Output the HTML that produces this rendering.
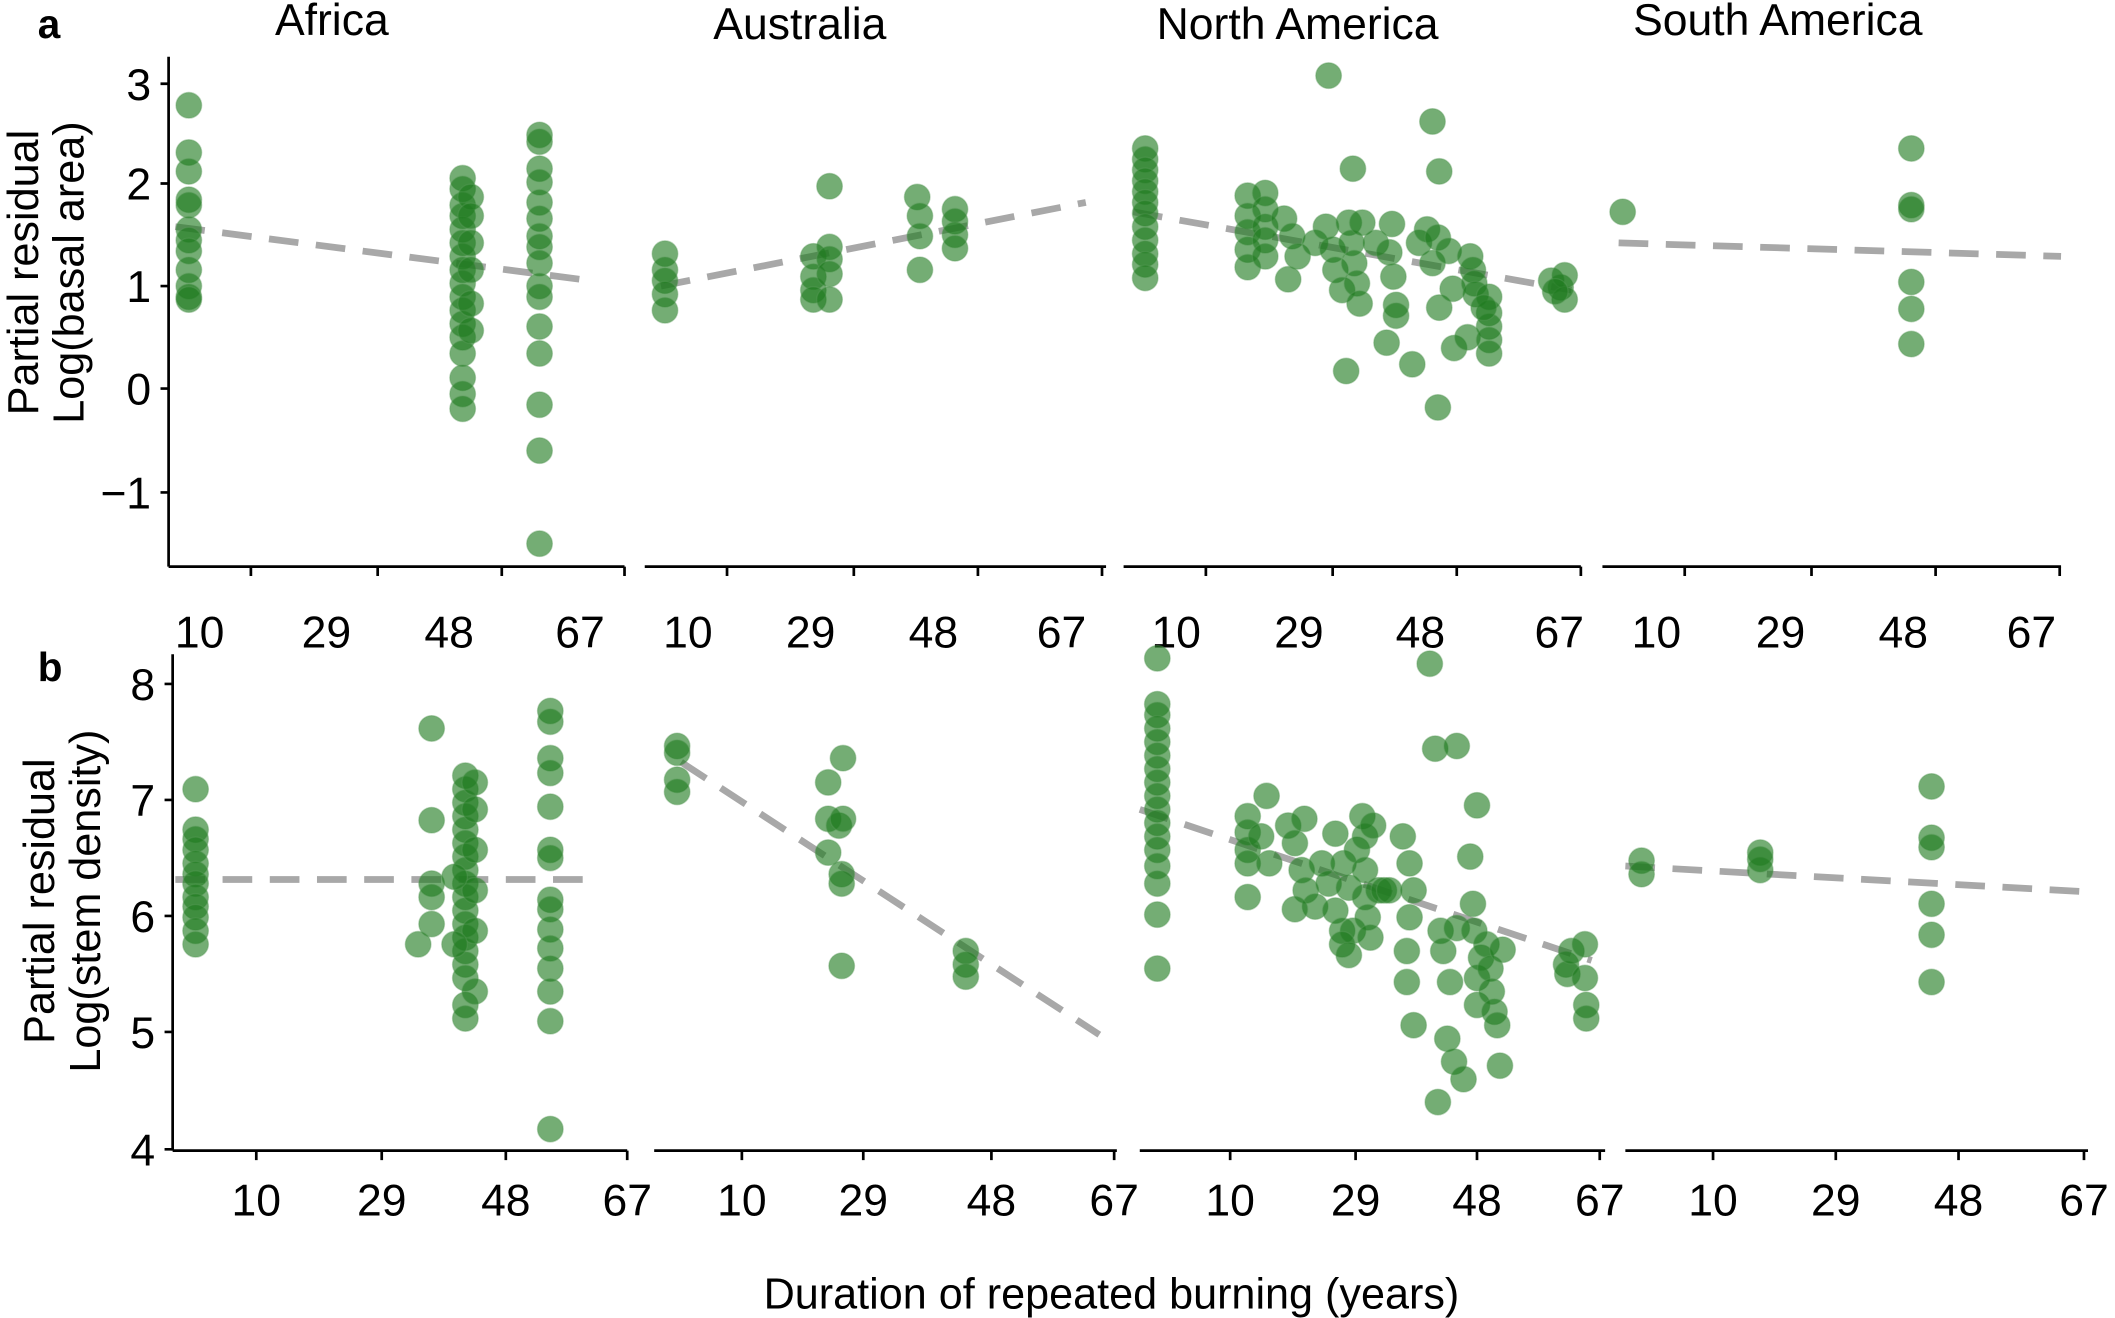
<!DOCTYPE html>
<html><head><meta charset="utf-8"><style>
html,body{margin:0;padding:0;background:#fff}
svg{display:block}
text{font-family:"Liberation Sans",sans-serif;fill:#000}
.p{fill:#1f7a1f;fill-opacity:.62;stroke:#5a9a5a;stroke-opacity:.4;stroke-width:1}
.ax{stroke:#000;stroke-width:2;fill:none}
.rl{stroke:#a8a8a8;stroke-width:5;stroke-dasharray:22,13;fill:none}
.t{font-size:33px}
.yl{font-size:32px}
</style></head><body>
<svg width="2115" height="1318" viewBox="0 0 1568 977" xmlns="http://www.w3.org/2000/svg">
<text x="28" y="28" font-size="30" font-weight="bold">a</text>
<text x="28" y="505" font-size="30" font-weight="bold">b</text>
<text class="t" x="246" y="26" text-anchor="middle">Africa</text>
<text class="t" x="593" y="29" text-anchor="middle">Australia</text>
<text class="t" x="962" y="29" text-anchor="middle">North America</text>
<text class="t" x="1318" y="26" text-anchor="middle">South America</text>
<text class="yl" transform="translate(28,202) rotate(-90)" text-anchor="middle">Partial residual</text>
<text class="yl" transform="translate(62,202) rotate(-90)" text-anchor="middle">Log(basal area)</text>
<text class="yl" transform="translate(40,668) rotate(-90)" text-anchor="middle">Partial residual</text>
<text class="yl" transform="translate(74,668) rotate(-90)" text-anchor="middle">Log(stem density)</text>
<text class="yl" x="824" y="970" text-anchor="middle">Duration of repeated burning (years)</text>

<path class="ax" d="M125 42V420M125 420H463M478 420H820M833 420H1172M1188 420H1528"/>
<path class="ax" d="M119 62H125M119 136H125M119 212H125M119 288H125M119 365H125
M186 420v7M280 420v7M372 420v7M463 420v7M539 420v7M633 420v7M725 420v7M817 420v7
M894 420v7M988 420v7M1080 420v7M1172 420v7M1249 420v7M1343 420v7M1435 420v7M1527 420v7"/>
<g class="t" text-anchor="end">
<text x="112" y="74">3</text><text x="112" y="148">2</text><text x="112" y="224">1</text><text x="112" y="300">0</text><text x="112" y="377">−1</text>
</g>
<g class="t" text-anchor="middle">
<text x="148" y="480">10</text><text x="242" y="480">29</text><text x="333" y="480">48</text><text x="430" y="480">67</text>
<text x="510" y="480">10</text><text x="601" y="480">29</text><text x="692" y="480">48</text><text x="787" y="480">67</text>
<text x="872" y="480">10</text><text x="963" y="480">29</text><text x="1053" y="480">48</text><text x="1156" y="480">67</text>
<text x="1228" y="480">10</text><text x="1320" y="480">29</text><text x="1411" y="480">48</text><text x="1506" y="480">67</text>
</g>

<path class="ax" d="M128 485V853M128 853H465M485 853H828M845 853H1190M1205 853H1548"/>
<path class="ax" d="M122 507H128M122 593H128M122 679H128M122 765H128M122 852H128
M190 853v7M283 853v7M375 853v7M465 853v7M550 853v7M640 853v7M735 853v7M826 853v7
M912 853v7M1005 853v7M1095 853v7M1186 853v7M1270 853v7M1361 853v7M1452 853v7M1545 853v7"/>
<g class="t" text-anchor="end">
<text x="115" y="519">8</text><text x="115" y="605">7</text><text x="115" y="691">6</text><text x="115" y="777">5</text><text x="115" y="864">4</text>
</g>
<g class="t" text-anchor="middle">
<text x="190" y="901">10</text><text x="283" y="901">29</text><text x="375" y="901">48</text><text x="465" y="901">67</text>
<text x="550" y="901">10</text><text x="640" y="901">29</text><text x="735" y="901">48</text><text x="826" y="901">67</text>
<text x="912" y="901">10</text><text x="1005" y="901">29</text><text x="1095" y="901">48</text><text x="1186" y="901">67</text>
<text x="1270" y="901">10</text><text x="1361" y="901">29</text><text x="1452" y="901">48</text><text x="1545" y="901">67</text>
</g>

<path class="rl" d="M130 168L430 207M490 212L805 150M840 157L1165 215M1200 180L1528 190
M130 652L440 652M505 565L815 767M845 600L1180 712M1205 642L1545 661"/>

<g class="p">
<circle cx="140" cy="78" r="9.5"/><circle cx="140" cy="113" r="9.5"/><circle cx="140" cy="127" r="9.5"/><circle cx="140" cy="148" r="9.5"/><circle cx="140" cy="152" r="9.5"/><circle cx="140" cy="170" r="9.5"/><circle cx="140" cy="178" r="9.5"/><circle cx="140" cy="186" r="9.5"/><circle cx="140" cy="200" r="9.5"/><circle cx="140" cy="212" r="9.5"/><circle cx="140" cy="220" r="9.5"/><circle cx="140" cy="222" r="9.5"/>
<circle cx="343" cy="132" r="9.5"/><circle cx="343" cy="140" r="9.5"/><circle cx="343" cy="152" r="9.5"/><circle cx="343" cy="160" r="9.5"/><circle cx="343" cy="170" r="9.5"/><circle cx="343" cy="180" r="9.5"/><circle cx="343" cy="190" r="9.5"/><circle cx="343" cy="200" r="9.5"/><circle cx="343" cy="210" r="9.5"/><circle cx="343" cy="220" r="9.5"/><circle cx="343" cy="230" r="9.5"/><circle cx="343" cy="240" r="9.5"/><circle cx="343" cy="250" r="9.5"/><circle cx="343" cy="262" r="9.5"/><circle cx="343" cy="280" r="9.5"/><circle cx="343" cy="292" r="9.5"/><circle cx="343" cy="303" r="9.5"/>
<circle cx="349" cy="146" r="9.5"/><circle cx="349" cy="160" r="9.5"/><circle cx="349" cy="180" r="9.5"/><circle cx="349" cy="200" r="9.5"/><circle cx="349" cy="225" r="9.5"/><circle cx="349" cy="245" r="9.5"/>
<circle cx="400" cy="100" r="9.5"/><circle cx="400" cy="105" r="9.5"/><circle cx="400" cy="125" r="9.5"/><circle cx="400" cy="135" r="9.5"/><circle cx="400" cy="150" r="9.5"/><circle cx="400" cy="162" r="9.5"/><circle cx="400" cy="175" r="9.5"/><circle cx="400" cy="183" r="9.5"/><circle cx="400" cy="195" r="9.5"/><circle cx="400" cy="212" r="9.5"/><circle cx="400" cy="220" r="9.5"/><circle cx="400" cy="242" r="9.5"/><circle cx="400" cy="262" r="9.5"/><circle cx="400" cy="300" r="9.5"/><circle cx="400" cy="334" r="9.5"/><circle cx="400" cy="403" r="9.5"/>
<circle cx="493" cy="188" r="9.5"/><circle cx="493" cy="200" r="9.5"/><circle cx="493" cy="208" r="9.5"/><circle cx="493" cy="218" r="9.5"/><circle cx="493" cy="230" r="9.5"/>
<circle cx="603" cy="190" r="9.5"/><circle cx="603" cy="205" r="9.5"/><circle cx="603" cy="215" r="9.5"/><circle cx="603" cy="222" r="9.5"/>
<circle cx="615" cy="138" r="9.5"/><circle cx="615" cy="183" r="9.5"/><circle cx="615" cy="192" r="9.5"/><circle cx="615" cy="203" r="9.5"/><circle cx="615" cy="222" r="9.5"/>
<circle cx="680" cy="146" r="9.5"/><circle cx="682" cy="160" r="9.5"/><circle cx="682" cy="175" r="9.5"/><circle cx="682" cy="200" r="9.5"/>
<circle cx="708" cy="155" r="9.5"/><circle cx="708" cy="164" r="9.5"/><circle cx="708" cy="174" r="9.5"/><circle cx="708" cy="184" r="9.5"/>
<circle cx="849" cy="110" r="9.5"/><circle cx="849" cy="118" r="9.5"/><circle cx="849" cy="126" r="9.5"/><circle cx="849" cy="134" r="9.5"/><circle cx="849" cy="142" r="9.5"/><circle cx="849" cy="150" r="9.5"/><circle cx="849" cy="158" r="9.5"/><circle cx="849" cy="168" r="9.5"/><circle cx="849" cy="178" r="9.5"/><circle cx="849" cy="188" r="9.5"/><circle cx="849" cy="196" r="9.5"/><circle cx="849" cy="206" r="9.5"/>
<circle cx="985" cy="56" r="9.5"/><circle cx="1062" cy="90" r="9.5"/><circle cx="1003" cy="125" r="9.5"/><circle cx="1067" cy="127" r="9.5"/>
<circle cx="925" cy="145" r="9.5"/><circle cx="925" cy="160" r="9.5"/><circle cx="925" cy="172" r="9.5"/><circle cx="925" cy="185" r="9.5"/><circle cx="925" cy="198" r="9.5"/>
<circle cx="938" cy="143" r="9.5"/><circle cx="938" cy="155" r="9.5"/><circle cx="938" cy="168" r="9.5"/><circle cx="938" cy="178" r="9.5"/><circle cx="938" cy="190" r="9.5"/>
<circle cx="952" cy="162" r="9.5"/><circle cx="958" cy="175" r="9.5"/><circle cx="962" cy="190" r="9.5"/><circle cx="955" cy="207" r="9.5"/>
<circle cx="975" cy="180" r="9.5"/><circle cx="983" cy="168" r="9.5"/><circle cx="988" cy="185" r="9.5"/><circle cx="990" cy="200" r="9.5"/><circle cx="995" cy="215" r="9.5"/>
<circle cx="1000" cy="165" r="9.5"/><circle cx="1002" cy="180" r="9.5"/><circle cx="1004" cy="195" r="9.5"/><circle cx="1006" cy="210" r="9.5"/><circle cx="1008" cy="225" r="9.5"/><circle cx="1010" cy="165" r="9.5"/>
<circle cx="1020" cy="180" r="9.5"/><circle cx="1030" cy="187" r="9.5"/><circle cx="1032" cy="166" r="9.5"/><circle cx="1033" cy="205" r="9.5"/><circle cx="1035" cy="226" r="9.5"/><circle cx="1035" cy="234" r="9.5"/><circle cx="1028" cy="254" r="9.5"/>
<circle cx="998" cy="275" r="9.5"/><circle cx="1047" cy="270" r="9.5"/><circle cx="1066" cy="302" r="9.5"/>
<circle cx="1052" cy="180" r="9.5"/><circle cx="1058" cy="170" r="9.5"/><circle cx="1066" cy="176" r="9.5"/><circle cx="1062" cy="195" r="9.5"/><circle cx="1067" cy="228" r="9.5"/><circle cx="1074" cy="186" r="9.5"/><circle cx="1077" cy="214" r="9.5"/>
<circle cx="1078" cy="258" r="9.5"/><circle cx="1088" cy="250" r="9.5"/>
<circle cx="1090" cy="190" r="9.5"/><circle cx="1092" cy="200" r="9.5"/><circle cx="1093" cy="210" r="9.5"/><circle cx="1094" cy="218" r="9.5"/>
<circle cx="1104" cy="220" r="9.5"/><circle cx="1104" cy="232" r="9.5"/><circle cx="1104" cy="242" r="9.5"/><circle cx="1104" cy="252" r="9.5"/><circle cx="1104" cy="262" r="9.5"/><circle cx="1100" cy="228" r="9.5"/>
<circle cx="1150" cy="208" r="9.5"/><circle cx="1157" cy="213" r="9.5"/><circle cx="1160" cy="204" r="9.5"/><circle cx="1160" cy="222" r="9.5"/><circle cx="1153" cy="216" r="9.5"/>
<circle cx="1203" cy="157" r="9.5"/><circle cx="1417" cy="110" r="9.5"/><circle cx="1417" cy="152" r="9.5"/><circle cx="1417" cy="155" r="9.5"/><circle cx="1417" cy="209" r="9.5"/><circle cx="1417" cy="229" r="9.5"/><circle cx="1417" cy="255" r="9.5"/>
</g>

<g class="p">
<circle cx="145" cy="585" r="9.5"/><circle cx="145" cy="615" r="9.5"/><circle cx="145" cy="622" r="9.5"/><circle cx="145" cy="630" r="9.5"/><circle cx="145" cy="640" r="9.5"/><circle cx="145" cy="648" r="9.5"/><circle cx="145" cy="655" r="9.5"/><circle cx="145" cy="665" r="9.5"/><circle cx="145" cy="672" r="9.5"/><circle cx="145" cy="680" r="9.5"/><circle cx="145" cy="690" r="9.5"/><circle cx="145" cy="700" r="9.5"/>
<circle cx="320" cy="540" r="9.5"/><circle cx="320" cy="608" r="9.5"/><circle cx="320" cy="655" r="9.5"/><circle cx="320" cy="665" r="9.5"/><circle cx="320" cy="685" r="9.5"/><circle cx="310" cy="700" r="9.5"/>
<circle cx="345" cy="575" r="9.5"/><circle cx="345" cy="585" r="9.5"/><circle cx="345" cy="595" r="9.5"/><circle cx="345" cy="605" r="9.5"/><circle cx="345" cy="615" r="9.5"/><circle cx="345" cy="625" r="9.5"/><circle cx="345" cy="635" r="9.5"/><circle cx="345" cy="645" r="9.5"/><circle cx="345" cy="655" r="9.5"/><circle cx="345" cy="665" r="9.5"/><circle cx="345" cy="675" r="9.5"/><circle cx="345" cy="685" r="9.5"/><circle cx="345" cy="695" r="9.5"/><circle cx="345" cy="705" r="9.5"/><circle cx="345" cy="715" r="9.5"/><circle cx="345" cy="725" r="9.5"/><circle cx="345" cy="745" r="9.5"/><circle cx="345" cy="755" r="9.5"/>
<circle cx="352" cy="580" r="9.5"/><circle cx="352" cy="600" r="9.5"/><circle cx="352" cy="630" r="9.5"/><circle cx="352" cy="660" r="9.5"/><circle cx="352" cy="690" r="9.5"/><circle cx="352" cy="735" r="9.5"/><circle cx="337" cy="650" r="9.5"/><circle cx="337" cy="700" r="9.5"/>
<circle cx="408" cy="527" r="9.5"/><circle cx="408" cy="535" r="9.5"/><circle cx="408" cy="562" r="9.5"/><circle cx="408" cy="573" r="9.5"/><circle cx="408" cy="598" r="9.5"/><circle cx="408" cy="630" r="9.5"/><circle cx="408" cy="636" r="9.5"/><circle cx="408" cy="667" r="9.5"/><circle cx="408" cy="674" r="9.5"/><circle cx="408" cy="689" r="9.5"/><circle cx="408" cy="703" r="9.5"/><circle cx="408" cy="718" r="9.5"/><circle cx="408" cy="735" r="9.5"/><circle cx="408" cy="757" r="9.5"/><circle cx="408" cy="837" r="9.5"/>
<circle cx="502" cy="553" r="9.5"/><circle cx="502" cy="558" r="9.5"/><circle cx="502" cy="578" r="9.5"/><circle cx="502" cy="587" r="9.5"/>
<circle cx="614" cy="580" r="9.5"/><circle cx="614" cy="607" r="9.5"/><circle cx="614" cy="632" r="9.5"/><circle cx="622" cy="612" r="9.5"/><circle cx="624" cy="648" r="9.5"/><circle cx="624" cy="655" r="9.5"/><circle cx="625" cy="562" r="9.5"/><circle cx="625" cy="607" r="9.5"/><circle cx="624" cy="716" r="9.5"/>
<circle cx="716" cy="705" r="9.5"/><circle cx="716" cy="715" r="9.5"/><circle cx="716" cy="724" r="9.5"/>
<circle cx="858" cy="488" r="9.5"/><circle cx="858" cy="522" r="9.5"/><circle cx="858" cy="530" r="9.5"/><circle cx="858" cy="540" r="9.5"/><circle cx="858" cy="550" r="9.5"/><circle cx="858" cy="560" r="9.5"/><circle cx="858" cy="570" r="9.5"/><circle cx="858" cy="580" r="9.5"/><circle cx="858" cy="590" r="9.5"/><circle cx="858" cy="600" r="9.5"/><circle cx="858" cy="610" r="9.5"/><circle cx="858" cy="620" r="9.5"/><circle cx="858" cy="630" r="9.5"/><circle cx="858" cy="642" r="9.5"/><circle cx="858" cy="655" r="9.5"/><circle cx="858" cy="678" r="9.5"/><circle cx="858" cy="718" r="9.5"/>
<circle cx="1060" cy="492" r="9.5"/><circle cx="1064" cy="555" r="9.5"/><circle cx="1080" cy="553" r="9.5"/><circle cx="1095" cy="597" r="9.5"/>
<circle cx="925" cy="605" r="9.5"/><circle cx="925" cy="617" r="9.5"/><circle cx="925" cy="630" r="9.5"/><circle cx="925" cy="640" r="9.5"/><circle cx="925" cy="665" r="9.5"/><circle cx="935" cy="620" r="9.5"/><circle cx="939" cy="590" r="9.5"/><circle cx="941" cy="640" r="9.5"/>
<circle cx="955" cy="612" r="9.5"/><circle cx="960" cy="625" r="9.5"/><circle cx="965" cy="645" r="9.5"/><circle cx="967" cy="607" r="9.5"/><circle cx="968" cy="660" r="9.5"/><circle cx="975" cy="672" r="9.5"/><circle cx="980" cy="640" r="9.5"/><circle cx="960" cy="674" r="9.5"/>
<circle cx="985" cy="655" r="9.5"/><circle cx="990" cy="675" r="9.5"/><circle cx="995" cy="690" r="9.5"/><circle cx="990" cy="618" r="9.5"/><circle cx="996" cy="640" r="9.5"/><circle cx="1000" cy="658" r="9.5"/><circle cx="1003" cy="690" r="9.5"/><circle cx="1006" cy="630" r="9.5"/>
<circle cx="1010" cy="605" r="9.5"/><circle cx="1012" cy="620" r="9.5"/><circle cx="1012" cy="645" r="9.5"/><circle cx="1012" cy="665" r="9.5"/><circle cx="1014" cy="680" r="9.5"/><circle cx="1016" cy="695" r="9.5"/><circle cx="1018" cy="612" r="9.5"/><circle cx="1022" cy="660" r="9.5"/><circle cx="1026" cy="660" r="9.5"/><circle cx="995" cy="700" r="9.5"/><circle cx="1000" cy="708" r="9.5"/>
<circle cx="1040" cy="620" r="9.5"/><circle cx="1045" cy="640" r="9.5"/><circle cx="1048" cy="660" r="9.5"/><circle cx="1045" cy="680" r="9.5"/><circle cx="1043" cy="705" r="9.5"/><circle cx="1043" cy="728" r="9.5"/><circle cx="1048" cy="760" r="9.5"/><circle cx="1030" cy="660" r="9.5"/>
<circle cx="1068" cy="690" r="9.5"/><circle cx="1070" cy="705" r="9.5"/><circle cx="1075" cy="728" r="9.5"/><circle cx="1073" cy="770" r="9.5"/><circle cx="1078" cy="787" r="9.5"/><circle cx="1085" cy="800" r="9.5"/><circle cx="1066" cy="817" r="9.5"/><circle cx="1080" cy="688" r="9.5"/>
<circle cx="1090" cy="635" r="9.5"/><circle cx="1092" cy="670" r="9.5"/><circle cx="1093" cy="690" r="9.5"/><circle cx="1095" cy="725" r="9.5"/><circle cx="1095" cy="745" r="9.5"/><circle cx="1098" cy="710" r="9.5"/>
<circle cx="1102" cy="700" r="9.5"/><circle cx="1105" cy="718" r="9.5"/><circle cx="1106" cy="735" r="9.5"/><circle cx="1108" cy="750" r="9.5"/><circle cx="1110" cy="760" r="9.5"/><circle cx="1112" cy="790" r="9.5"/><circle cx="1114" cy="704" r="9.5"/>
<circle cx="1161" cy="715" r="9.5"/><circle cx="1162" cy="722" r="9.5"/><circle cx="1165" cy="705" r="9.5"/><circle cx="1175" cy="700" r="9.5"/><circle cx="1175" cy="725" r="9.5"/><circle cx="1176" cy="745" r="9.5"/><circle cx="1176" cy="755" r="9.5"/>
<circle cx="1217" cy="638" r="9.5"/><circle cx="1217" cy="648" r="9.5"/><circle cx="1305" cy="632" r="9.5"/><circle cx="1305" cy="645" r="9.5"/><circle cx="1305" cy="637" r="9.5"/>
<circle cx="1432" cy="583" r="9.5"/><circle cx="1432" cy="621" r="9.5"/><circle cx="1432" cy="628" r="9.5"/><circle cx="1432" cy="670" r="9.5"/><circle cx="1432" cy="693" r="9.5"/><circle cx="1432" cy="728" r="9.5"/>
</g>
</svg>
</body></html>
